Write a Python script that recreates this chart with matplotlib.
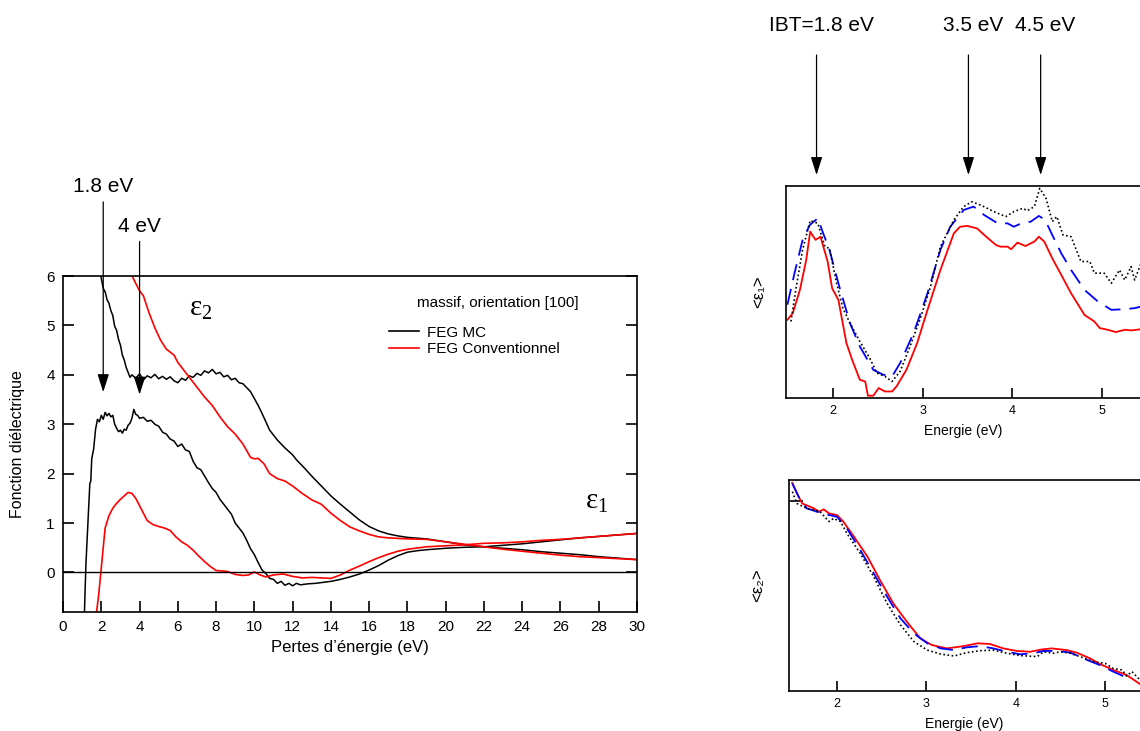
import matplotlib
matplotlib.use("Agg")
import matplotlib.pyplot as plt
from matplotlib.lines import Line2D

plt.rcParams["font.family"] = ["Liberation Sans", "DejaVu Sans"]
plt.rcParams["mathtext.fontset"] = "custom"
plt.rcParams["mathtext.rm"] = "Liberation Serif"
plt.rcParams["mathtext.it"] = "Liberation Serif:italic"

# ---------------------------------------------------------------------------
# Left panel: EELS dielectric function, bulk [100]
# ---------------------------------------------------------------------------
mc_e2_x = [1.9, 2.0, 2.1, 2.2, 2.3, 2.4, 2.5, 2.6, 2.7, 2.8, 2.9, 3.0, 3.1, 3.2,
           3.3, 3.4, 3.5, 3.6, 3.8, 4.0, 4.2, 4.4, 4.6, 4.8, 5.0, 5.2, 5.4, 5.6,
           5.8, 6.0, 6.2, 6.4, 6.6, 6.8, 7.0, 7.2, 7.4, 7.6, 7.8, 8.0, 8.2, 8.4,
           8.6, 8.8, 9.0, 9.2, 9.4, 9.6, 9.8, 10.0, 10.2, 10.4, 10.6, 10.8,
           11.0, 11.2, 11.4, 11.6, 11.8, 12.0, 12.2, 12.6, 13.0, 13.5, 14.0,
           14.5, 15.0, 15.5, 16.0, 16.5, 17.0, 17.5, 18.0, 19.0, 20.0, 21.0,
           22.0, 23.0, 24.0, 25.0, 26.0, 27.0, 28.0, 29.0, 30.0]
mc_e2_y = [6.1, 5.95, 5.75, 5.68, 5.52, 5.45, 5.3, 5.2, 4.98, 4.9, 4.72, 4.6,
           4.4, 4.3, 4.15, 4.05, 3.95, 4.0, 3.93, 4.02, 3.9, 3.98, 3.94, 4.01,
           3.92, 3.97, 3.91, 3.96, 3.88, 3.84, 3.93, 3.89, 3.98, 3.95, 4.03,
           3.99, 4.08, 4.04, 4.11, 4.02, 4.05, 3.96, 3.99, 3.9, 3.93, 3.84, 3.82,
           3.74, 3.66, 3.52, 3.38, 3.22, 3.05, 2.88, 2.78, 2.68, 2.6, 2.52, 2.45,
           2.38, 2.28, 2.12, 1.95, 1.75, 1.55, 1.38, 1.22, 1.06, 0.93, 0.84,
           0.78, 0.74, 0.71, 0.68, 0.62, 0.56, 0.52, 0.49, 0.46, 0.42, 0.39,
           0.36, 0.32, 0.29, 0.26]

mc_e1_x = [1.12, 1.15, 1.2, 1.3, 1.4, 1.45, 1.5, 1.6, 1.7, 1.8, 1.9, 2.0, 2.1,
           2.2, 2.3, 2.4, 2.5, 2.6, 2.7, 2.8, 2.9, 3.0, 3.1, 3.2, 3.3, 3.4, 3.5,
           3.6, 3.7, 3.8, 3.9, 4.0, 4.2, 4.4, 4.6, 4.8, 5.0, 5.2, 5.4, 5.6, 5.8,
           6.0, 6.2, 6.4, 6.6, 6.8, 7.0, 7.2, 7.4, 7.6, 7.8, 8.0, 8.2, 8.4, 8.6,
           8.8, 9.0, 9.2, 9.4, 9.6, 9.8, 10.0, 10.2, 10.4, 10.6, 10.8, 11.0,
           11.2, 11.4, 11.6, 11.8, 12.0, 12.2, 12.4, 12.8, 13.2, 13.6, 14.0,
           14.5, 15.0, 15.5, 16.0, 16.5, 17.0, 17.5, 18.0, 18.5, 19.0, 20.0,
           21.0, 22.0, 23.0, 24.0, 25.0, 26.0, 27.0, 28.0, 29.0, 30.0]
mc_e1_y = [-0.8, -0.4, 0.2, 1.0, 1.8, 1.85, 2.3, 2.5, 2.9, 3.1, 3.05, 3.18,
           3.1, 3.24, 3.17, 3.22, 3.15, 3.18, 3.0, 2.92, 2.85, 2.88, 2.82, 2.9,
           2.88, 2.98, 3.02, 3.12, 3.3, 3.2, 3.18, 3.12, 3.14, 3.06, 3.08, 3.0,
           2.96, 2.84, 2.8, 2.7, 2.66, 2.55, 2.6, 2.48, 2.45, 2.25, 2.12, 2.08,
           1.95, 1.82, 1.7, 1.62, 1.48, 1.38, 1.28, 1.18, 1.0, 0.9, 0.8, 0.65,
           0.48, 0.36, 0.2, 0.05, -0.02, -0.12, -0.14, -0.22, -0.18, -0.26,
           -0.22, -0.27, -0.22, -0.25, -0.23, -0.22, -0.2, -0.18, -0.14, -0.09,
           -0.03, 0.05, 0.14, 0.25, 0.34, 0.41, 0.44, 0.46, 0.49, 0.51, 0.52,
           0.55, 0.58, 0.62, 0.66, 0.7, 0.73, 0.76, 0.79]

conv_e2_x = [3.55, 3.8, 4.0, 4.2, 4.5, 4.8, 5.1, 5.4, 5.6, 5.8, 6.0, 6.3, 6.6,
             7.0, 7.4, 7.8, 8.2, 8.6, 9.0, 9.4, 9.8, 10.0, 10.2, 10.5, 10.8, 11.2,
             11.6, 12.0, 12.5, 13.0, 13.5, 14.0, 14.5, 15.0, 15.5, 16.0, 16.5,
             17.0, 17.5, 18.0, 19.0, 20.0, 21.0, 22.0, 23.0, 24.0, 25.0, 26.0,
             27.0, 28.0, 29.0, 30.0]
conv_e2_y = [6.05, 5.85, 5.7, 5.6, 5.25, 4.95, 4.7, 4.52, 4.46, 4.4, 4.25, 4.1,
             3.95, 3.75, 3.55, 3.38, 3.15, 2.95, 2.8, 2.6, 2.33, 2.3, 2.31, 2.2,
             2.0, 1.9, 1.85, 1.75, 1.6, 1.47, 1.38, 1.2, 1.05, 0.92, 0.84, 0.77,
             0.72, 0.7, 0.69, 0.68, 0.67, 0.62, 0.57, 0.52, 0.47, 0.43, 0.39,
             0.35, 0.32, 0.3, 0.28, 0.26]

conv_e1_x = [1.75, 1.85, 1.95, 2.05, 2.2, 2.4, 2.6, 2.8, 3.0, 3.2, 3.4, 3.6, 3.8,
             4.0, 4.2, 4.4, 4.7, 5.0, 5.3, 5.6, 5.9, 6.2, 6.5, 6.8, 7.1, 7.4, 7.7,
             8.0, 8.3, 8.6, 9.0, 9.4, 9.7, 10.0, 10.3, 10.6, 11.0, 11.5, 12.0,
             12.5, 13.0, 13.5, 14.0, 14.5, 15.0, 15.5, 16.0, 16.5, 17.0, 17.5,
             18.0, 19.0, 20.0, 21.0, 22.0, 23.0, 24.0, 25.0, 26.0, 27.0, 28.0,
             29.0, 30.0]
conv_e1_y = [-0.8, -0.5, -0.1, 0.3, 0.9, 1.15, 1.3, 1.4, 1.48, 1.55, 1.62, 1.6,
             1.5, 1.35, 1.2, 1.05, 0.97, 0.93, 0.9, 0.85, 0.72, 0.62, 0.55, 0.45,
             0.33, 0.22, 0.12, 0.04, 0.03, 0.02, -0.04, -0.06, -0.05, 0.01, -0.05,
             -0.09, -0.05, -0.03, -0.08, -0.11, -0.1, -0.11, -0.12, -0.05, 0.05,
             0.13, 0.22, 0.3, 0.37, 0.43, 0.47, 0.52, 0.54, 0.56, 0.59, 0.6, 0.62,
             0.65, 0.67, 0.7, 0.73, 0.76, 0.79]

left_xticks = list(range(0, 31, 2))
left_yticks = [0, 1, 2, 3, 4, 5, 6]
left_arrows = [("1.8 eV", 2.1, 3.65, 7.5), ("4 eV", 4.0, 3.6, 6.7)]

# ---------------------------------------------------------------------------
# Right panels: <eps1>, <eps2> (arbitrary units)
# ---------------------------------------------------------------------------
r1_red_x = [1.49, 1.55, 1.63, 1.70, 1.745, 1.805, 1.86, 1.94, 1.99, 2.06, 2.15,
            2.22, 2.30, 2.36, 2.39, 2.45, 2.51, 2.58, 2.66, 2.71, 2.82, 2.94,
            3.05, 3.20, 3.35, 3.42, 3.50, 3.61, 3.69, 3.82, 3.87, 3.95, 3.99,
            4.06, 4.15, 4.25, 4.30, 4.36, 4.45, 4.55, 4.66, 4.81, 4.92, 4.98,
            5.07, 5.16, 5.26, 5.33, 5.45]
r1_red_y = [0.369, 0.40, 0.51, 0.65, 0.785, 0.746, 0.761, 0.644, 0.518, 0.463,
            0.259, 0.173, 0.086, 0.078, 0.011, 0.011, 0.047, 0.031, 0.031, 0.055,
            0.133, 0.259, 0.408, 0.604, 0.777, 0.808, 0.812, 0.80, 0.769, 0.722,
            0.714, 0.714, 0.702, 0.733, 0.717, 0.738, 0.761, 0.738, 0.659, 0.581,
            0.494, 0.392, 0.361, 0.330, 0.322, 0.311, 0.322, 0.319, 0.325]

r1_blue_x = [1.49, 1.57, 1.66, 1.74, 1.83, 1.89, 1.96, 2.07, 2.19, 2.30, 2.45,
             2.56, 2.66, 2.75, 2.90, 3.05, 3.20, 3.31, 3.46, 3.57, 3.69, 3.84,
             3.95, 4.02, 4.12, 4.21, 4.30, 4.37, 4.45, 4.55, 4.66, 4.81, 4.96,
             5.11, 5.26, 5.37, 5.45]
r1_blue_y = [0.44, 0.589, 0.746, 0.816, 0.848, 0.777, 0.699, 0.526, 0.353, 0.243,
             0.133, 0.11, 0.102, 0.165, 0.306, 0.487, 0.699, 0.808, 0.887, 0.903,
             0.863, 0.824, 0.824, 0.808, 0.827, 0.832, 0.859, 0.84, 0.769, 0.683,
             0.604, 0.51, 0.455, 0.416, 0.419, 0.424, 0.432]

r1_black_x = [1.53, 1.59, 1.66, 1.745, 1.83, 1.91, 1.96, 2.04, 2.11, 2.19, 2.30,
              2.41, 2.49, 2.58, 2.66, 2.75, 2.86, 2.97, 3.09, 3.20, 3.35, 3.46,
              3.55, 3.65, 3.80, 3.93, 4.02, 4.12, 4.17, 4.25, 4.31, 4.38, 4.45,
              4.50, 4.57, 4.66, 4.77, 4.87, 4.92, 5.03, 5.11, 5.20, 5.26, 5.33,
              5.37, 5.45]
r1_black_y = [0.361, 0.526, 0.699, 0.837, 0.824, 0.714, 0.706, 0.542, 0.424,
              0.353, 0.267, 0.188, 0.118, 0.102, 0.078, 0.126, 0.243, 0.369, 0.526,
              0.714, 0.84, 0.903, 0.926, 0.91, 0.879, 0.856, 0.879, 0.895, 0.884,
              0.903, 0.989, 0.942, 0.832, 0.856, 0.769, 0.761, 0.644, 0.644, 0.589,
              0.589, 0.542, 0.604, 0.557, 0.62, 0.557, 0.644]

r2_red_x = [1.497, 1.55, 1.61, 1.74, 1.80, 1.85, 1.91, 2.0, 2.07, 2.19, 2.34,
            2.48, 2.63, 2.78, 2.93, 3.06, 3.23, 3.42, 3.57, 3.71, 3.86, 4.01,
            4.16, 4.29, 4.40, 4.57, 4.68, 4.83, 4.94, 5.09, 5.24, 5.39]
r2_red_y = [0.987, 0.937, 0.889, 0.866, 0.85, 0.861, 0.842, 0.834, 0.803, 0.731,
            0.637, 0.526, 0.415, 0.329, 0.25, 0.218, 0.202, 0.213, 0.226, 0.223,
            0.202, 0.19, 0.186, 0.197, 0.202, 0.194, 0.182, 0.155, 0.128, 0.10,
            0.076, 0.033]

r2_blue_x = [1.5, 1.57, 1.66, 1.83, 2.0, 2.11, 2.26, 2.41, 2.56, 2.71, 2.86, 3.01,
             3.16, 3.31, 3.45, 3.60, 3.75, 3.90, 4.05, 4.20, 4.31, 4.46, 4.61,
             4.80, 4.94, 5.09, 5.26]
r2_blue_y = [0.984, 0.921, 0.866, 0.842, 0.826, 0.771, 0.668, 0.558, 0.447,
             0.344, 0.273, 0.226, 0.202, 0.194, 0.207, 0.213, 0.202, 0.186, 0.174,
             0.179, 0.19, 0.19, 0.182, 0.147, 0.123, 0.092, 0.06]

r2_black_x = [1.5, 1.55, 1.66, 1.81, 1.91, 1.96, 2.04, 2.11, 2.26, 2.41, 2.56,
              2.71, 2.86, 3.01, 3.16, 3.31, 3.45, 3.60, 3.75, 3.90, 4.05, 4.24,
              4.31, 4.42, 4.50, 4.61, 4.72, 4.87, 5.0, 5.09, 5.19, 5.24, 5.30, 5.39]
r2_black_y = [0.945, 0.889, 0.866, 0.85, 0.803, 0.818, 0.803, 0.747, 0.652, 0.542,
              0.415, 0.313, 0.234, 0.194, 0.175, 0.166, 0.182, 0.191, 0.194, 0.179,
              0.168, 0.163, 0.186, 0.179, 0.186, 0.179, 0.163, 0.139, 0.131, 0.107,
              0.10, 0.071, 0.092, 0.052]

right_xticks = [2, 3, 4, 5]
right_arrows = [("IBT=1.8 eV", 1.816), ("3.5 eV", 3.513), ("4.5 eV", 4.32)]

RED = "#ff0000"
BLUE = "#0000ff"
ARROW = dict(arrowstyle="-|>,head_length=1.1,head_width=0.35",
             color="black", lw=0.9, shrinkA=0, shrinkB=0)

fig = plt.figure(figsize=(11.4, 7.31), dpi=100)

# --- left panel -----------------------------------------------------------
ax = fig.add_axes([0.0553, 0.1628, 0.5035, 0.4596])
ax.plot(mc_e2_x, mc_e2_y, color="black", lw=1.1)
ax.plot(mc_e1_x, mc_e1_y, color="black", lw=1.1)
ax.plot(conv_e2_x, conv_e2_y, color=RED, lw=1.2)
ax.plot(conv_e1_x, conv_e1_y, color=RED, lw=1.2)
ax.axhline(0, color="black", lw=1.0)

ax.set_xlim(0, 30)
ax.set_ylim(-0.8, 6)
ax.set_xticks(left_xticks)
ax.set_yticks(left_yticks)
ax.tick_params(direction="in", length=8, width=1.2, labelsize=11,
               right=True, top=False, pad=6)
for s in ax.spines.values():
    s.set_linewidth(1.2)
ax.set_xlabel("Pertes d\u2019énergie (eV)", fontsize=12, labelpad=4)
ax.set_ylabel("Fonction diélectrique", fontsize=11.5, labelpad=15)

for label, x, ytip, ystart in left_arrows:
    ax.annotate("", xy=(x, ytip), xytext=(x, ystart), annotation_clip=False,
                arrowprops=ARROW)
    ax.text(x, ystart + 0.12, label, ha="center", va="bottom", fontsize=15,
            clip_on=False)

ax.text(7.2, 5.35, r"$\mathrm{ε}_\mathrm{2}$", fontsize=21, ha="center", va="center")
ax.text(27.9, 1.45, r"$\mathrm{ε}_\mathrm{1}$", fontsize=21, ha="center", va="center")

ax.text(22.7, 5.45, "massif, orientation [100]", fontsize=11, ha="center",
        va="center")
handles = [Line2D([], [], color="black", lw=1.2),
           Line2D([], [], color=RED, lw=1.2)]
ax.legend(handles, ["FEG MC", "FEG Conventionnel"], loc="upper left",
          bbox_to_anchor=(0.557, 0.87), frameon=False, fontsize=11,
          handlelength=2.0, handletextpad=0.5, labelspacing=0.15,
          borderaxespad=0)

# --- right panels ---------------------------------------------------------
def style_right(a, xlim):
    a.set_xlim(*xlim)
    a.set_ylim(0, 1)
    a.set_xticks(right_xticks)
    a.set_yticks([])
    a.spines["right"].set_visible(False)
    for s in a.spines.values():
        s.set_linewidth(1.2)
    a.tick_params(axis="x", direction="in", length=7, width=1.2, labelsize=9,
                  pad=5)
    a.set_xlabel("Energie (eV)", fontsize=10, labelpad=5)

ax1 = fig.add_axes([0.6895, 0.4555, 0.3105, 0.2900])
ax1.plot(r1_red_x, r1_red_y, color=RED, lw=1.3)
ax1.plot(r1_blue_x, r1_blue_y, color=BLUE, lw=1.3, dashes=(9, 5))
ax1.plot(r1_black_x, r1_black_y, color="black", lw=1.2, ls=(0, (1, 1.5)))
style_right(ax1, (1.475, 5.43))
ax1.set_ylabel("<ε\u2081>", fontsize=12, labelpad=14)

for label, x in right_arrows:
    ax1.annotate("", xy=(x, 1.052), xytext=(x, 1.618), annotation_clip=False,
                 arrowprops=ARROW)
    ax1.text(x + 0.05, 1.755, label, ha="center", va="center", fontsize=15,
             clip_on=False)

ax2 = fig.add_axes([0.6921, 0.0547, 0.3079, 0.2886])
ax2.plot(r2_red_x, r2_red_y, color=RED, lw=1.3)
ax2.plot(r2_blue_x, r2_blue_y, color=BLUE, lw=1.3, dashes=(9, 5))
ax2.plot(r2_black_x, r2_black_y, color="black", lw=1.2, ls=(0, (1, 1.5)))
style_right(ax2, (1.462, 5.39))
ax2.set_yticks([0.90])
ax2.set_yticklabels([])
ax2.tick_params(axis="y", direction="in", length=10, width=1.2)
ax2.set_ylabel("<ε\u2082>", fontsize=12, labelpad=14)

fig.savefig("out.png", dpi=100)
